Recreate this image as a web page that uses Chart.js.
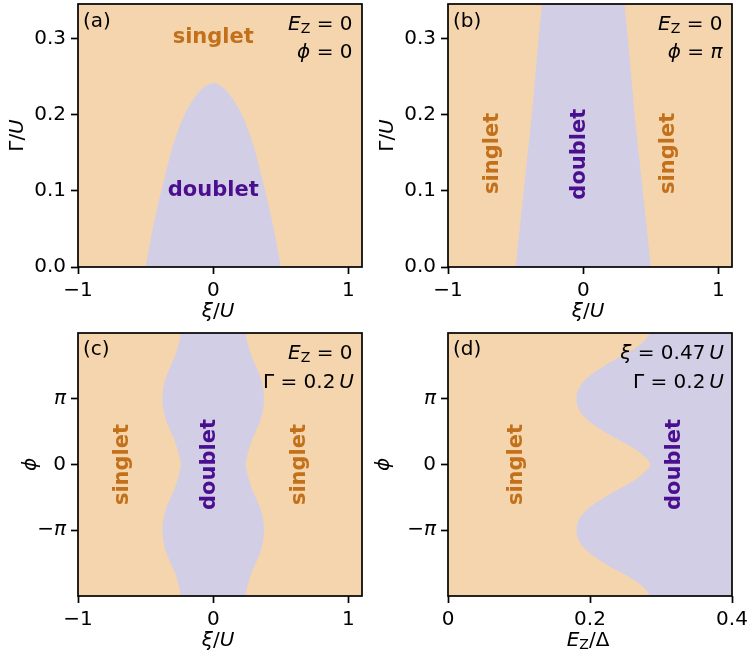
<!DOCTYPE html>
<html>
<head>
<meta charset="utf-8">
<script src="https://cdn.jsdelivr.net/npm/chart.js@4/dist/chart.umd.min.js"></script>
<style>
  html, body { margin: 0; padding: 0; background: #fff; }
  #fig { position: relative; width: 749px; height: 654px; }
  #fig canvas { position: absolute; }
</style>
</head>
<body>
<div id="fig">
  <canvas id="pa" width="374" height="327" style="left:0;top:0"></canvas>
  <canvas id="pb" width="375" height="327" style="left:374px;top:0"></canvas>
  <canvas id="pc" width="374" height="327" style="left:0;top:327px"></canvas>
  <canvas id="pd" width="375" height="327" style="left:374px;top:327px"></canvas>
</div>
<script>
// ---- phase boundaries -------------------------------------------------

// (a) E_Z = 0, phi = 0: upper edge of the doublet dome, Gamma/U versus xi/U
const xiA    = [-0.50, -0.47, -0.42, -0.36, -0.30, -0.20, -0.12, -0.06, 0.00, 0.06, 0.12, 0.20, 0.30, 0.36, 0.42, 0.47, 0.50];
const gammaA = [0.000, 0.029, 0.073, 0.117, 0.158, 0.204, 0.226, 0.237, 0.241, 0.237, 0.226, 0.204, 0.158, 0.117, 0.073, 0.029, 0.000];

// (b) E_Z = 0, phi = pi: edges of the doublet band versus Gamma/U
const gammaB   = [0.00, 0.10, 0.20, 0.30, 0.345];
const xiBLeft  = [-0.50, -0.44, -0.38, -0.33, -0.305];
const xiBRight = [0.50, 0.44, 0.38, 0.33, 0.305];

// (c) E_Z = 0, Gamma = 0.2U: edges of the doublet band versus phi (phi in units of pi)
const phiC     = [-2, -1.875, -1.75, -1.625, -1.5, -1.375, -1.25, -1.125, -1, -0.875, -0.75, -0.625, -0.5, -0.375, -0.25, -0.125, 0,
                  0.125, 0.25, 0.375, 0.5, 0.625, 0.75, 0.875, 1, 1.125, 1.25, 1.375, 1.5, 1.625, 1.75, 1.875, 2];
const xiCRight = [0.240, 0.250, 0.267, 0.288, 0.314, 0.340, 0.360, 0.371, 0.375, 0.371, 0.360, 0.340, 0.314, 0.288, 0.267, 0.250, 0.240,
                  0.250, 0.267, 0.288, 0.314, 0.340, 0.360, 0.371, 0.375, 0.371, 0.360, 0.340, 0.314, 0.288, 0.267, 0.250, 0.240];
const xiCLeft  = [-0.240, -0.250, -0.267, -0.288, -0.314, -0.340, -0.360, -0.371, -0.375, -0.371, -0.360, -0.340, -0.314, -0.288, -0.267, -0.250, -0.240,
                  -0.250, -0.267, -0.288, -0.314, -0.340, -0.360, -0.371, -0.375, -0.371, -0.360, -0.340, -0.314, -0.288, -0.267, -0.250, -0.240];

// (d) xi = 0.47U, Gamma = 0.2U: critical Zeeman energy E_Z/Delta versus phi (units of pi)
const phiD = [-2, -1.875, -1.75, -1.625, -1.5, -1.375, -1.25, -1.125, -1, -0.875, -0.75, -0.625, -0.5, -0.375, -0.25, -0.125, 0,
              0.125, 0.25, 0.375, 0.5, 0.625, 0.75, 0.875, 1, 1.125, 1.25, 1.375, 1.5, 1.625, 1.75, 1.875, 2];
const ezD  = [0.285, 0.276, 0.261, 0.240, 0.220, 0.203, 0.190, 0.183, 0.181, 0.183, 0.190, 0.203, 0.220, 0.240, 0.261, 0.276, 0.285,
              0.276, 0.261, 0.240, 0.220, 0.203, 0.190, 0.183, 0.181, 0.183, 0.190, 0.203, 0.220, 0.240, 0.261, 0.276, 0.285];
// right-hand edge of the doublet region in (d)
const phiDEdge = [-2, 2];
const ezDEdge  = [0.4, 0.4];

// ---- ticks --------------------------------------------------------------
const xiTicks = [-1, 0, 1];
const xiTickLabels = ['\u22121', '0', '1'];
const gammaTicks = [0, 0.1, 0.2, 0.3];
const gammaTickLabels = ['0.0', '0.1', '0.2', '0.3'];
const phiTicks = [-1, 0, 1];
const phiTickLabels = ['\u2212\u03c0', '0', '\u03c0'];
const ezTicks = [0, 0.2, 0.4];
const ezTickLabels = ['0', '0.2', '0.4'];

// ---- style ---------------------------------------------------------------
const FONT = 'DejaVu Sans';
const TXT = 20;
const LBL = 21;
const SINGLET_BG = '#f5d5ae';
const DOUBLET_BG = '#d1cee5';
const SINGLET_TXT = '#c2701a';
const DOUBLET_TXT = '#4a0e8f';

const zip = (xs, ys) => xs.map((x, i) => ({ x, y: ys[i] }));

// text runs: N normal, I italic, S subscript, B bold
const N = t => ({ t });
const I = t => ({ t, i: true });
const S = t => ({ t, sub: true });
const B = t => ({ t, b: true });

function fontStr(p, size) {
  return (p.i ? 'italic ' : '') + (p.b ? 'bold ' : '') + size + 'px "' + FONT + '"';
}

function drawRich(ctx, it, x, y) {
  const size = it.size || TXT;
  const runs = it.parts.map(p => {
    const s = p.sub ? size * 0.7 : size;
    ctx.font = fontStr(p, s);
    return Object.assign({}, p, { s, w: ctx.measureText(p.t).width });
  });
  const total = runs.reduce((a, r) => a + r.w, 0);
  ctx.save();
  ctx.translate(x, y);
  if (it.rot) ctx.rotate(-Math.PI / 2);
  let cx = it.align === 'right' ? -total : it.align === 'center' ? -total / 2 : 0;
  ctx.textAlign = 'left';
  ctx.textBaseline = it.base || 'alphabetic';
  ctx.fillStyle = it.color || '#000';
  for (const r of runs) {
    ctx.font = fontStr(r, r.s);
    ctx.fillText(r.t, cx, r.sub ? size * 0.16 : 0);
    cx += r.w;
  }
  ctx.restore();
}

// placement helpers
const atData = (vx, vy) => ch => [ch.scales.x.getPixelForValue(vx), ch.scales.y.getPixelForValue(vy)];
const fromTL = (dx, dy) => ch => [ch.chartArea.left + dx, ch.chartArea.top + dy];
const fromTR = (dx, dy) => ch => [ch.chartArea.right - dx, ch.chartArea.top + dy];
const yTitleAt = dx => ch => [ch.chartArea.left - dx, (ch.chartArea.top + ch.chartArea.bottom) / 2];
const xTitleAt = ch => [(ch.chartArea.left + ch.chartArea.right) / 2 - 2, ch.chartArea.bottom + 50];

// background colour, frame and annotations for one panel
function decorations(texts) {
  return {
    id: 'decorations',
    beforeDraw(chart) {
      const { ctx, chartArea: a } = chart;
      ctx.save();
      ctx.fillStyle = SINGLET_BG;
      ctx.fillRect(a.left, a.top, a.right - a.left, a.bottom - a.top);
      ctx.restore();
    },
    afterDraw(chart) {
      const { ctx, chartArea: a } = chart;
      ctx.save();
      ctx.strokeStyle = '#000';
      ctx.lineWidth = 1.7;
      ctx.strokeRect(a.left, a.top, a.right - a.left, a.bottom - a.top);
      ctx.restore();
      for (const it of texts) {
        const [x, y] = it.at(chart);
        drawRich(ctx, it, x, y);
      }
    }
  };
}

const tickGrid = { display: true, drawOnChartArea: false, drawTicks: true, tickLength: 7, tickWidth: 1.7, tickColor: '#000' };

function axis(range, ticks, labels, fit, font) {
  return {
    type: 'linear',
    min: range[0],
    max: range[1],
    afterBuildTicks: s => { s.ticks = ticks.map(v => ({ value: v })); },
    afterFit: s => { fit(s); s.paddingLeft = 0; s.paddingRight = 0; s.paddingTop = 0; s.paddingBottom = 0; },
    ticks: {
      autoSkip: false, maxRotation: 0, minRotation: 0, padding: 5, color: '#000',
      font: font || { family: FONT, size: TXT },
      callback: (v, i) => labels[i]
    },
    grid: tickGrid,
    border: { display: false }
  };
}

const phiFont = c => ({ family: FONT, size: TXT, style: (c.tick && c.tick.value !== 0) ? 'italic' : 'normal' });

function panel(id, p) {
  return new Chart(document.getElementById(id), {
    type: 'line',
    data: { datasets: p.datasets },
    options: {
      indexAxis: p.indexAxis || 'x',
      responsive: false,
      animation: false,
      events: [],
      layout: { autoPadding: false, padding: { left: 0, top: p.T, right: p.R, bottom: 0 } },
      plugins: { legend: { display: false }, tooltip: { enabled: false } },
      elements: { point: { radius: 0 }, line: { borderWidth: 0, borderColor: 'rgba(0,0,0,0)' } },
      scales: {
        x: Object.assign(axis(p.xr, p.xt, p.xtl, s => { s.height = p.H; }), { position: 'bottom' }),
        y: Object.assign(axis(p.yr, p.yt, p.ytl, s => { s.width = p.L; }, p.yFont), { position: 'left' })
      }
    },
    plugins: [decorations(p.texts)]
  });
}

const lineStyle = (extra) => Object.assign({ borderColor: 'rgba(0,0,0,0)', borderWidth: 0, pointRadius: 0, backgroundColor: DOUBLET_BG }, extra);
const EQ = ' = ';

// (a)
panel('pa', {
  L: 78, T: 4, R: 12, H: 60,
  xr: [-1, 1.1], xt: xiTicks, xtl: xiTickLabels,
  yr: [0, 0.345], yt: gammaTicks, ytl: gammaTickLabels,
  datasets: [lineStyle({ data: zip(xiA, gammaA), fill: 'origin', cubicInterpolationMode: 'monotone' })],
  texts: [
    { parts: [N('(a)')], at: fromTL(5, 22.5) },
    { parts: [I('E'), S('Z'), N(EQ + '0')], at: fromTR(9.5, 26), align: 'right' },
    { parts: [I('\u03d5'), N(EQ + '0')], at: fromTR(9.5, 53.5), align: 'right' },
    { parts: [B('singlet')], size: LBL, color: SINGLET_TXT, at: atData(0, 0.294), align: 'center' },
    { parts: [B('doublet')], size: LBL, color: DOUBLET_TXT, at: atData(0, 0.093), align: 'center' },
    { parts: [N('\u0393/'), I('U')], at: yTitleAt(60.5), align: 'center', rot: true, base: 'middle' },
    { parts: [I('\u03be'), N('/'), I('U')], at: xTitleAt, align: 'center' }
  ]
});

// (b)
panel('pb', {
  indexAxis: 'y',
  L: 74, T: 4, R: 17, H: 60,
  xr: [-1, 1.1], xt: xiTicks, xtl: xiTickLabels,
  yr: [0, 0.345], yt: gammaTicks, ytl: gammaTickLabels,
  datasets: [
    lineStyle({ data: zip(xiBLeft, gammaB), fill: '+1', tension: 0 }),
    lineStyle({ data: zip(xiBRight, gammaB), fill: false, tension: 0 })
  ],
  texts: [
    { parts: [N('(b)')], at: fromTL(5, 22.5) },
    { parts: [I('E'), S('Z'), N(EQ + '0')], at: fromTR(9.5, 26), align: 'right' },
    { parts: [I('\u03d5'), N(EQ), I('\u03c0')], at: fromTR(9.5, 53.5), align: 'right' },
    { parts: [B('singlet')], size: LBL, color: SINGLET_TXT, at: atData(-0.673, 0.149), align: 'center', rot: true, base: 'middle' },
    { parts: [B('doublet')], size: LBL, color: DOUBLET_TXT, at: atData(-0.03, 0.148), align: 'center', rot: true, base: 'middle' },
    { parts: [B('singlet')], size: LBL, color: SINGLET_TXT, at: atData(0.634, 0.149), align: 'center', rot: true, base: 'middle' },
    { parts: [N('\u0393/'), I('U')], at: yTitleAt(60.5), align: 'center', rot: true, base: 'middle' },
    { parts: [I('\u03be'), N('/'), I('U')], at: xTitleAt, align: 'center' }
  ]
});

// (c)
panel('pc', {
  indexAxis: 'y',
  L: 78, T: 6, R: 12, H: 58,
  xr: [-1, 1.1], xt: xiTicks, xtl: xiTickLabels,
  yr: [-2, 2], yt: phiTicks, ytl: phiTickLabels, yFont: phiFont,
  datasets: [
    lineStyle({ data: zip(xiCLeft, phiC), fill: '+1', cubicInterpolationMode: 'monotone' }),
    lineStyle({ data: zip(xiCRight, phiC), fill: false, cubicInterpolationMode: 'monotone' })
  ],
  texts: [
    { parts: [N('(c)')], at: fromTL(5, 22) },
    { parts: [I('E'), S('Z'), N(EQ + '0')], at: fromTR(9.5, 26), align: 'right' },
    { parts: [N('\u0393' + EQ + '0.2\u2009'), I('U')], at: fromTR(8, 54.5), align: 'right' },
    { parts: [B('singlet')], size: LBL, color: SINGLET_TXT, at: atData(-0.672, 0), align: 'center', rot: true, base: 'middle' },
    { parts: [B('doublet')], size: LBL, color: DOUBLET_TXT, at: atData(-0.027, 0), align: 'center', rot: true, base: 'middle' },
    { parts: [B('singlet')], size: LBL, color: SINGLET_TXT, at: atData(0.636, 0), align: 'center', rot: true, base: 'middle' },
    { parts: [I('\u03d5')], at: yTitleAt(47), align: 'center', rot: true, base: 'middle' },
    { parts: [I('\u03be'), N('/'), I('U')], at: xTitleAt, align: 'center' }
  ]
});

// (d)
panel('pd', {
  indexAxis: 'y',
  L: 74, T: 6, R: 17, H: 58,
  xr: [0, 0.4], xt: ezTicks, xtl: ezTickLabels,
  yr: [-2, 2], yt: phiTicks, ytl: phiTickLabels, yFont: phiFont,
  datasets: [
    lineStyle({ data: zip(ezD, phiD), fill: '+1', cubicInterpolationMode: 'monotone' }),
    lineStyle({ data: zip(ezDEdge, phiDEdge), fill: false, tension: 0 })
  ],
  texts: [
    { parts: [N('(d)')], at: fromTL(5, 22) },
    { parts: [I('\u03be'), N(EQ + '0.47\u2009'), I('U')], at: fromTR(8, 26), align: 'right' },
    { parts: [N('\u0393' + EQ + '0.2\u2009'), I('U')], at: fromTR(8, 54.5), align: 'right' },
    { parts: [B('singlet')], size: LBL, color: SINGLET_TXT, at: atData(0.096, 0), align: 'center', rot: true, base: 'middle' },
    { parts: [B('doublet')], size: LBL, color: DOUBLET_TXT, at: atData(0.319, 0), align: 'center', rot: true, base: 'middle' },
    { parts: [I('\u03d5')], at: yTitleAt(64), align: 'center', rot: true, base: 'middle' },
    { parts: [I('E'), S('Z'), N('/\u0394')], at: xTitleAt, align: 'center' }
  ]
});
</script>
</body>
</html>
